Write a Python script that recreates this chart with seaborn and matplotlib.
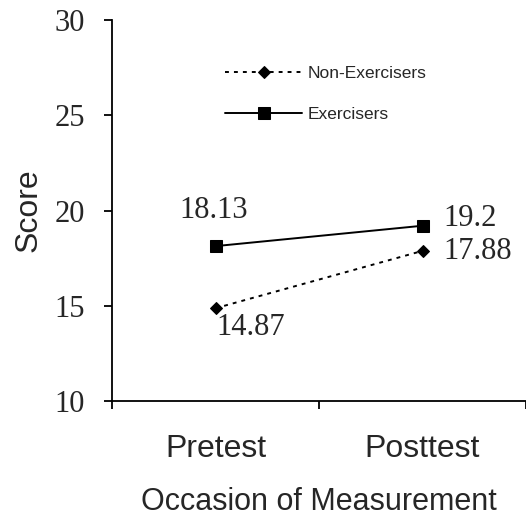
import matplotlib
matplotlib.use("Agg")
import matplotlib.pyplot as plt
import pandas as pd
import seaborn as sns

# Chart data
OCCASIONS = ["Pretest", "Posttest"]
GROUPS = ["Non-Exercisers", "Exercisers"]
NON_EXERCISERS = [14.87, 17.88]
EXERCISERS = [18.13, 19.2]
Y_TICKS = [10, 15, 20, 25, 30]

SERIF = "Liberation Serif"
SANS = "Liberation Sans"


def build_frame() -> pd.DataFrame:
    rows = []
    for group, values in zip(GROUPS, [NON_EXERCISERS, EXERCISERS]):
        for occ, val in zip(OCCASIONS, values):
            rows.append({"occasion": occ, "score": val, "group": group})
    return pd.DataFrame(rows)


def main() -> None:
    sns.set_style("white")
    df = build_frame()

    fig = plt.figure(figsize=(5.26, 5.16), dpi=100)
    ax = fig.add_axes([112 / 526, 1 - 401 / 516, 1 - 112 / 526, (401 - 20) / 516])

    styles = {
        "Non-Exercisers": dict(marker="D", markersize=6.5, dashes=(2, 2.6)),
        "Exercisers": dict(marker="s", markersize=8, dashes=()),
    }
    handles = []
    for group in GROUPS:
        sub = df[df["group"] == group]
        st = styles[group]
        sns.lineplot(data=sub, x="occasion", y="score", ax=ax, color="black",
                     linewidth=1.4, marker=st["marker"], markersize=st["markersize"],
                     markeredgecolor="black", markerfacecolor="black", label=group)
        line = ax.lines[-1]
        if st["dashes"]:
            line.set_dashes(st["dashes"])
        handles.append(line)

    # value labels
    offsets = {
        ("Exercisers", 0): (-2, 36, "center"),
        ("Exercisers", 1): (21, 7, "left"),
        ("Non-Exercisers", 0): (35, -19, "center"),
        ("Non-Exercisers", 1): (21, -1, "left"),
    }
    for group, values in zip(GROUPS, [NON_EXERCISERS, EXERCISERS]):
        for i, val in enumerate(values):
            dx, dy, ha = offsets[(group, i)]
            ax.annotate(f"{val:g}", (i, val), xytext=(dx, dy), textcoords="offset pixels",
                        ha=ha, va="center", fontsize=22, family=SERIF)

    ax.set_xlim(-0.5, 1.5)
    ax.set_ylim(10, 30)
    ax.set_yticks(Y_TICKS)
    ax.set_yticklabels([str(t) for t in Y_TICKS], family=SERIF, fontsize=22)
    ax.set_xticks([0, 1])
    ax.set_xticklabels(OCCASIONS, family=SANS, fontsize=23)
    ax.set_xticks([-0.5, 0.5, 1.5], minor=True)
    ax.tick_params(left=True, bottom=True, which="both")
    ax.tick_params(axis="x", which="major", length=0, pad=24)
    ax.tick_params(axis="x", which="minor", length=5.8, width=1.3, direction="out", color="black")
    ax.tick_params(axis="y", length=5.8, width=1.3, direction="out", color="black", pad=13.5)

    ax.set_xlabel("Occasion of Measurement", family=SANS, fontsize=22, labelpad=16)
    ax.set_ylabel("Score", family=SANS, fontsize=23, labelpad=8)

    for side in ["top", "right"]:
        ax.spines[side].set_visible(False)
    for side in ["left", "bottom"]:
        ax.spines[side].set_color("black")
        ax.spines[side].set_linewidth(1.3)

    ax.legend(handles=handles, labels=GROUPS, loc="upper left",
              bbox_to_anchor=(0.236, 0.92), frameon=False, handlelength=4.4,
              labelspacing=1.45, handletextpad=0.35, prop={"family": SANS, "size": 12.5})

    fig.savefig("out.png", dpi=100)
    plt.close(fig)


if __name__ == "__main__":
    main()
